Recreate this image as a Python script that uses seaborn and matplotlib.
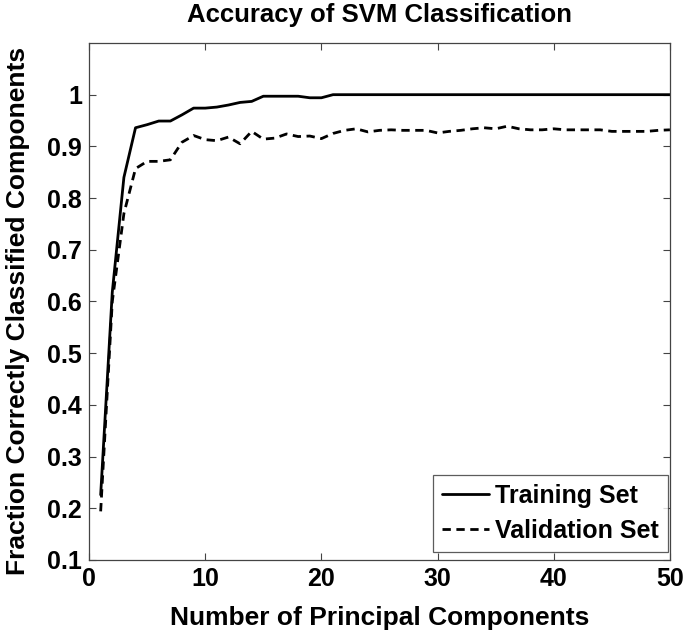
import numpy as np
import pandas as pd
import matplotlib
matplotlib.use("Agg")
import matplotlib.pyplot as plt
import seaborn as sns

components = list(range(1, 51))
training = [0.226, 0.618, 0.840, 0.936, 0.942, 0.949, 0.949, 0.961, 0.974, 0.974,
            0.976, 0.980, 0.985, 0.987, 0.997, 0.997, 0.997, 0.997, 0.994, 0.994,
            1.0, 1.0, 1.0, 1.0, 1.0, 1.0, 1.0, 1.0, 1.0, 1.0,
            1.0, 1.0, 1.0, 1.0, 1.0, 1.0, 1.0, 1.0, 1.0, 1.0,
            1.0, 1.0, 1.0, 1.0, 1.0, 1.0, 1.0, 1.0, 1.0, 1.0]
validation = [0.194, 0.600, 0.770, 0.857, 0.871, 0.871, 0.874, 0.908, 0.921, 0.913,
              0.911, 0.918, 0.905, 0.929, 0.914, 0.916, 0.924, 0.919, 0.920, 0.915,
              0.925, 0.931, 0.934, 0.928, 0.931, 0.932, 0.931, 0.931, 0.931, 0.926,
              0.929, 0.931, 0.934, 0.936, 0.934, 0.939, 0.934, 0.932, 0.932, 0.934,
              0.932, 0.932, 0.932, 0.932, 0.929, 0.929, 0.929, 0.929, 0.931, 0.932]
series_names = ["Training Set", "Validation Set"]
yticks = [0.1, 0.2, 0.3, 0.4, 0.5, 0.6, 0.7, 0.8, 0.9, 1.0]
ytick_labels = ["0.1", "0.2", "0.3", "0.4", "0.5", "0.6", "0.7", "0.8", "0.9", "1"]
xticks = [0, 10, 20, 30, 40, 50]

df = pd.DataFrame({
    "x": components * 2,
    "y": training + validation,
    "set": [series_names[0]] * len(components) + [series_names[1]] * len(components),
})

sns.set_theme(style="white")
plt.rcParams["font.family"] = ["Liberation Sans", "DejaVu Sans"]
plt.rcParams["font.weight"] = "bold"
plt.rcParams["text.color"] = "black"
plt.rcParams["axes.labelcolor"] = "black"
plt.rcParams["xtick.color"] = "black"
plt.rcParams["ytick.color"] = "black"

fig = plt.figure(figsize=(6.85, 6.32), dpi=100)
ax = fig.add_axes([0.130, 0.114, 0.848, 0.818])

sns.lineplot(data=df, x="x", y="y", style="set", color="black", linewidth=2.0,
             dashes={series_names[0]: "", series_names[1]: (3, 2)}, ax=ax)

ax.set_xlim(0, 50)
ax.set_ylim(0.1, 1.1)
ax.set_xticks(xticks)
ax.set_xticklabels([str(t) for t in xticks], fontsize=18, fontweight="bold")
ax.set_yticks(yticks)
ax.set_yticklabels(ytick_labels, fontsize=18, fontweight="bold")
ax.tick_params(direction="in", length=5, width=0.8, color="#444444",
               top=True, right=True, bottom=True, left=True, pad=5)
for s in ax.spines.values():
    s.set_color("#444444")
    s.set_linewidth(0.9)

ax.set_xlabel("Number of Principal Components", fontsize=19, fontweight="bold", labelpad=11)
ax.set_ylabel("Fraction Correctly Classified Components", fontsize=19, fontweight="bold")
ax.yaxis.set_label_coords(-0.102, 0.482)
ax.set_title("Accuracy of SVM Classification", fontsize=18.5, fontweight="bold", pad=15)

leg = ax.legend(loc="lower right", bbox_to_anchor=(0.9966, 0.0155), fontsize=18,
                frameon=True, fancybox=False,
                handlelength=1.9, handletextpad=0.25, borderaxespad=0.0,
                borderpad=0.35, labelspacing=0.45)
leg.set_title(None)
leg.get_frame().set_edgecolor("#333333")
leg.get_frame().set_linewidth(0.9)
for t in leg.get_texts():
    t.set_fontweight("bold")

fig.savefig("out.png", dpi=100)
